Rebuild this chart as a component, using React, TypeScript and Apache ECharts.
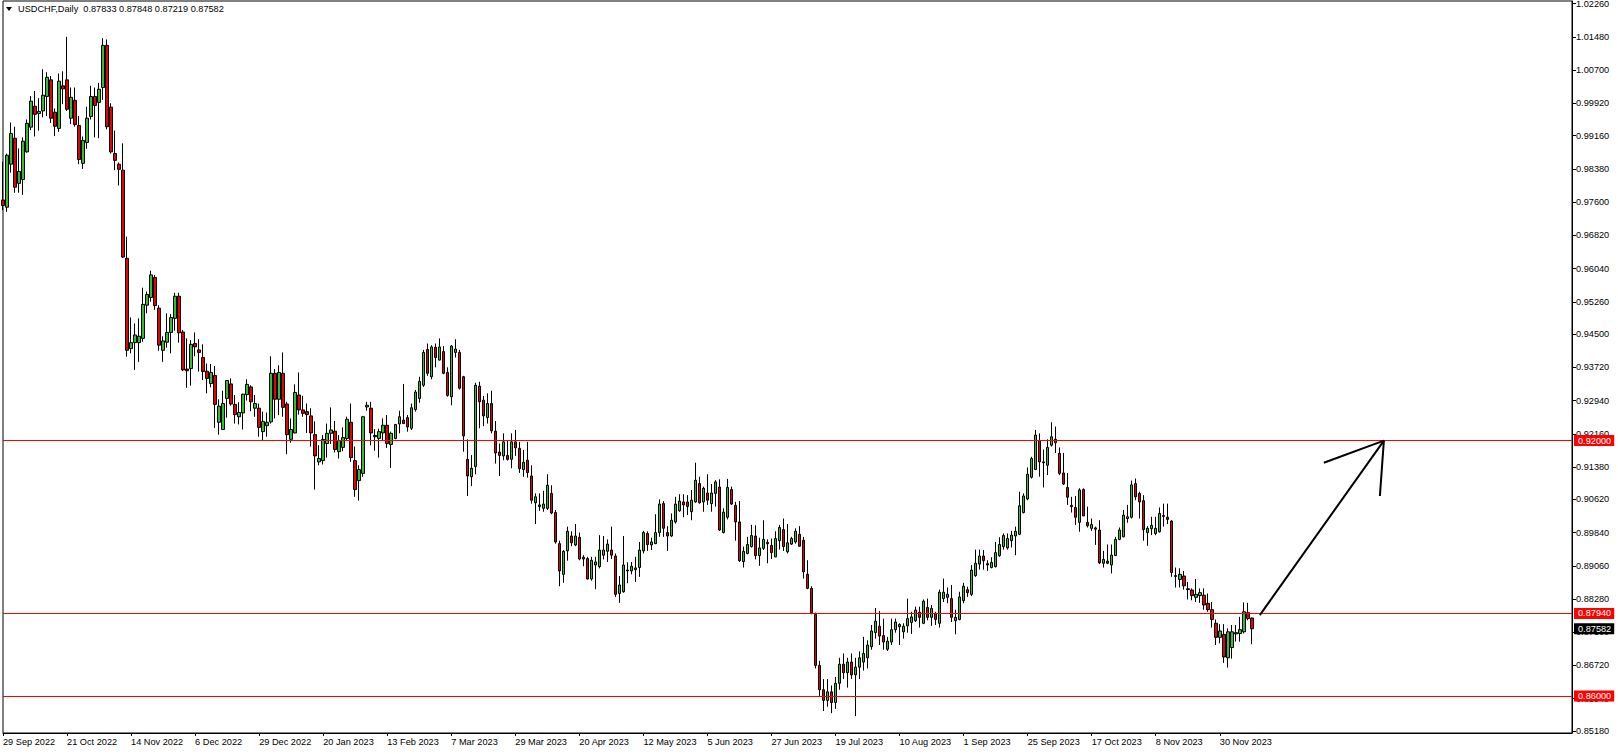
import React, { useEffect, useRef } from "react";
import * as echarts from "echarts";

const symbolName = "USDCHF,Daily";

const opens = [
  0.9765,0.9748,0.9849,0.9910,0.9804,0.9813,0.9878,0.9936,0.9985,0.9968,
  0.9974,1.0008,1.0047,0.9971,0.9933,1.0033,1.0047,0.9957,0.9999,0.9940,
  0.9851,0.9900,0.9961,1.0008,0.9994,1.0029,1.0128,0.9983,0.9874,0.9849,
  0.9835,0.9628,0.9416,0.9430,0.9430,0.9440,0.9518,0.9536,0.9583,0.9511,
  0.9412,0.9431,0.9454,0.9487,0.9539,0.9455,0.9368,0.9369,0.9428,0.9413,
  0.9395,0.9363,0.9334,0.9353,0.9243,0.9226,0.9299,0.9333,0.9285,0.9256,
  0.9265,0.9308,0.9326,0.9276,0.9276,0.9221,0.9235,0.9244,0.9358,0.9297,
  0.9358,0.9286,0.9203,0.9218,0.9307,0.9272,0.9268,0.9258,0.9214,0.9150,
  0.9153,0.9193,0.9217,0.9222,0.9174,0.9184,0.9205,0.9243,0.9153,0.9106,
  0.9123,0.9279,0.9276,0.9212,0.9205,0.9218,0.9236,0.9191,0.9205,0.9239,
  0.9248,0.9254,0.9229,0.9273,0.9299,0.9330,0.9414,0.9350,0.9419,0.9389,
  0.9409,0.9360,0.9303,0.9407,0.9407,0.9350,0.9156,0.9115,0.9139,0.9328,
  0.9295,0.9254,0.9287,0.9222,0.9173,0.9164,0.9165,0.9156,0.9197,0.9182,
  0.9132,0.9154,0.9117,0.9054,0.9049,0.9041,0.9041,0.9076,0.9031,0.8958,
  0.8886,0.8941,0.8976,0.8955,0.8973,0.8926,0.8923,0.8875,0.8908,0.8904,
  0.8931,0.8940,0.8943,0.8929,0.8841,0.8845,0.8894,0.8894,0.8897,0.8902,
  0.8941,0.8982,0.8955,0.8958,0.8984,0.9052,0.8984,0.8976,0.9009,0.9035,
  0.9056,0.9056,0.9033,0.9056,0.9099,0.9056,0.9077,0.9052,0.9076,0.9091,
  0.8984,0.9020,0.9085,0.9048,0.9009,0.8916,0.8935,0.8951,0.8976,0.8930,
  0.8947,0.8961,0.8954,0.8927,0.8965,0.8991,0.8939,0.8957,0.8962,0.8980,
  0.8966,0.8886,0.8853,0.8792,0.8672,0.8615,0.8590,0.8610,0.8585,0.8630,
  0.8675,0.8655,0.8680,0.8650,0.8668,0.8680,0.8690,0.8716,0.8749,0.8764,
  0.8742,0.8710,0.8727,0.8756,0.8763,0.8751,0.8765,0.8773,0.8777,0.8797,
  0.8771,0.8808,0.8785,0.8794,0.8771,0.8829,0.8832,0.8829,0.8777,0.8780,
  0.8824,0.8850,0.8839,0.8883,0.8910,0.8929,0.8911,0.8902,0.8904,0.8930,
  0.8951,0.8948,0.8965,0.8976,0.8980,0.9031,0.9063,0.9114,0.9132,0.9200,
  0.9150,0.9142,0.9189,0.9203,0.9170,0.9124,0.9090,0.9048,0.9043,0.9008,
  0.9085,0.9008,0.8994,0.8995,0.8990,0.8912,0.8917,0.8908,0.8930,0.8968,
  0.8974,0.9017,0.9020,0.9099,0.9076,0.9059,0.8984,0.8993,0.8982,0.8986,
  0.9022,0.9020,0.9011,0.8883,0.8874,0.8882,0.8852,0.8849,0.8832,0.8836,
  0.8837,0.8818,0.8803,0.8771,0.8738,0.8745,0.8690,0.8714,0.8746,0.8747,
  0.8751,0.8796,0.87833,
];

const highs = [
  0.9855,0.9874,0.9947,0.9937,0.9886,0.9912,0.9954,1.0009,1.0021,1.0004,
  1.0072,1.0065,1.0056,0.9980,1.0062,1.0067,1.0148,1.0029,1.0029,0.9962,
  0.9914,0.9984,1.0033,1.0029,1.0040,1.0145,1.0142,0.9992,0.9928,0.9853,
  0.9898,0.9679,0.9489,0.9475,0.9487,0.9559,0.9550,0.9599,0.9589,0.9518,
  0.9445,0.9499,0.9497,0.9547,0.9547,0.9460,0.9440,0.9436,0.9454,0.9438,
  0.9426,0.9381,0.9380,0.9375,0.9297,0.9317,0.9342,0.9346,0.9307,0.9290,
  0.9310,0.9344,0.9330,0.9307,0.9287,0.9268,0.9266,0.9398,0.9368,0.9377,
  0.9407,0.9291,0.9252,0.9332,0.9360,0.9305,0.9287,0.9276,0.9245,0.9189,
  0.9213,0.9240,0.9278,0.9246,0.9213,0.9231,0.9256,0.9287,0.9186,0.9142,
  0.9258,0.9291,0.9291,0.9227,0.9228,0.9252,0.9260,0.9221,0.9239,0.9270,
  0.9333,0.9260,0.9287,0.9319,0.9350,0.9413,0.9428,0.9424,0.9428,0.9440,
  0.9422,0.9372,0.9424,0.9438,0.9413,0.9352,0.9203,0.9166,0.9336,0.9338,
  0.9305,0.9311,0.9317,0.9246,0.9193,0.9217,0.9200,0.9217,0.9225,0.9197,
  0.9178,0.9197,0.9142,0.9076,0.9076,0.9082,0.9121,0.9095,0.9037,0.8965,
  0.8943,0.8998,0.8987,0.9004,0.8984,0.8931,0.8927,0.8927,0.8927,0.8978,
  0.8976,0.8968,0.8998,0.8935,0.8882,0.8976,0.8914,0.8915,0.8927,0.8962,
  0.8988,0.8987,0.8972,0.9027,0.9062,0.9058,0.8999,0.9029,0.9068,0.9074,
  0.9074,0.9072,0.9084,0.9148,0.9115,0.9092,0.9121,0.9098,0.9107,0.9109,
  0.9041,0.9110,0.9092,0.9056,0.9058,0.8951,0.8974,0.9002,0.9001,0.8972,
  0.9013,0.8968,0.8970,0.8987,0.9002,0.9017,0.9004,0.8974,0.8994,0.8999,
  0.8974,0.8919,0.8858,0.8796,0.8683,0.8640,0.8640,0.8625,0.8645,0.8690,
  0.8700,0.8690,0.8700,0.8690,0.8705,0.8739,0.8731,0.8767,0.8807,0.8800,
  0.8782,0.8739,0.8782,0.8782,0.8771,0.8771,0.8829,0.8798,0.8810,0.8810,
  0.8827,0.8829,0.8814,0.8798,0.8850,0.8876,0.8855,0.8861,0.8803,0.8845,
  0.8866,0.8857,0.8908,0.8944,0.8944,0.8943,0.8919,0.8926,0.8962,0.8973,
  0.8982,0.8982,0.8988,0.8998,0.9080,0.9076,0.9137,0.9162,0.9225,0.9217,
  0.9179,0.9203,0.9243,0.9233,0.9184,0.9171,0.9124,0.9068,0.9070,0.9088,
  0.9088,0.9045,0.9017,0.8998,0.9013,0.8941,0.8956,0.8956,0.8974,0.8996,
  0.9037,0.9049,0.9106,0.9111,0.9080,0.9072,0.8999,0.9021,0.9021,0.9043,
  0.9052,0.9052,0.9013,0.8902,0.8900,0.8894,0.8868,0.8853,0.8875,0.8853,
  0.8853,0.8841,0.8821,0.8780,0.8769,0.8769,0.8759,0.8767,0.8767,0.8786,
  0.8820,0.8819,0.87848,
];

const lows = [
  0.9741,0.9737,0.9829,0.9782,0.9782,0.9777,0.9876,0.9929,0.9914,0.9928,
  0.9959,0.9962,0.9946,0.9915,0.9925,0.9990,0.9974,0.9943,0.9937,0.9849,
  0.9838,0.9885,0.9954,0.9912,0.9910,1.0000,0.9931,0.9874,0.9835,0.9799,
  0.9629,0.9397,0.9405,0.9366,0.9385,0.9432,0.9499,0.9526,0.9507,0.9411,
  0.9385,0.9418,0.9405,0.9458,0.9430,0.9363,0.9324,0.9329,0.9398,0.9362,
  0.9342,0.9311,0.9325,0.9230,0.9214,0.9225,0.9254,0.9282,0.9240,0.9238,
  0.9226,0.9294,0.9269,0.9256,0.9209,0.9200,0.9209,0.9240,0.9252,0.9260,
  0.9256,0.9168,0.9195,0.9217,0.9261,0.9256,0.9218,0.9186,0.9085,0.9142,
  0.9144,0.9160,0.9192,0.9172,0.9158,0.9175,0.9199,0.9150,0.9068,0.9059,
  0.9115,0.9270,0.9189,0.9176,0.9160,0.9200,0.9183,0.9136,0.9203,0.9217,
  0.9239,0.9221,0.9225,0.9268,0.9289,0.9326,0.9352,0.9344,0.9372,0.9388,
  0.9356,0.9303,0.9283,0.9395,0.9320,0.9174,0.9070,0.9093,0.9121,0.9229,
  0.9234,0.9240,0.9217,0.9146,0.9117,0.9154,0.9153,0.9135,0.9164,0.9124,
  0.9115,0.9113,0.9052,0.9004,0.9035,0.9033,0.9037,0.9027,0.8958,0.8858,
  0.8866,0.8918,0.8952,0.8952,0.8919,0.8905,0.8874,0.8871,0.8851,0.8900,
  0.8921,0.8915,0.8922,0.8833,0.8819,0.8843,0.8865,0.8886,0.8868,0.8880,
  0.8935,0.8941,0.8943,0.8957,0.8974,0.8974,0.8941,0.8974,0.9005,0.9033,
  0.9020,0.9025,0.9013,0.9054,0.9052,0.9033,0.9049,0.9033,0.9045,0.8988,
  0.8982,0.9015,0.9049,0.8965,0.8915,0.8902,0.8933,0.8949,0.8921,0.8906,
  0.8943,0.8912,0.8922,0.8926,0.8944,0.8941,0.8935,0.8955,0.8958,0.8951,
  0.8876,0.8851,0.8792,0.8665,0.8600,0.8565,0.8575,0.8560,0.8570,0.8615,
  0.8640,0.8620,0.8640,0.8553,0.8640,0.8660,0.8665,0.8709,0.8735,0.8720,
  0.8709,0.8706,0.8720,0.8749,0.8720,0.8735,0.8749,0.8746,0.8774,0.8761,
  0.8769,0.8778,0.8765,0.8767,0.8761,0.8821,0.8818,0.8774,0.8745,0.8778,
  0.8818,0.8833,0.8835,0.8880,0.8897,0.8897,0.8894,0.8900,0.8902,0.8927,
  0.8944,0.8944,0.8949,0.8931,0.8978,0.9029,0.9060,0.9111,0.9131,0.9115,
  0.9090,0.9119,0.9186,0.9171,0.9119,0.9096,0.9049,0.9031,0.9002,0.8986,
  0.9023,0.8996,0.8988,0.8955,0.8910,0.8902,0.8910,0.8888,0.8929,0.8966,
  0.8973,0.9007,0.9017,0.9060,0.9017,0.8965,0.8953,0.8978,0.8978,0.8984,
  0.8998,0.9004,0.8880,0.8855,0.8855,0.8850,0.8827,0.8825,0.8821,0.8819,
  0.8803,0.8798,0.8761,0.8720,0.8724,0.8678,0.8667,0.8688,0.8728,0.8728,
  0.8747,0.8778,0.87219,
];

const closes = [
  0.9752,0.9870,0.9921,0.9795,0.9832,0.9903,0.9945,0.9997,0.9966,0.9973,
  1.0011,1.0053,0.9957,0.9938,1.0044,1.0026,0.9978,1.0006,0.9942,0.9860,
  0.9905,0.9957,1.0008,0.9987,1.0025,1.0128,0.9937,0.9878,0.9858,0.9837,
  0.9631,0.9412,0.9430,0.9448,0.9445,0.9520,0.9543,0.9589,0.9517,0.9424,
  0.9434,0.9454,0.9489,0.9539,0.9453,0.9366,0.9364,0.9426,0.9420,0.9407,
  0.9362,0.9346,0.9360,0.9285,0.9281,0.9287,0.9341,0.9286,0.9261,0.9266,
  0.9309,0.9332,0.9291,0.9287,0.9231,0.9245,0.9243,0.9358,0.9297,0.9360,
  0.9278,0.9214,0.9226,0.9313,0.9272,0.9264,0.9261,0.9218,0.9164,0.9158,
  0.9203,0.9217,0.9225,0.9179,0.9200,0.9207,0.9250,0.9160,0.9085,0.9132,
  0.9256,0.9283,0.9218,0.9209,0.9221,0.9236,0.9193,0.9217,0.9238,0.9256,
  0.9240,0.9232,0.9277,0.9314,0.9339,0.9407,0.9358,0.9420,0.9395,0.9420,
  0.9358,0.9306,0.9422,0.9415,0.9323,0.9211,0.9117,0.9135,0.9330,0.9291,
  0.9258,0.9287,0.9223,0.9171,0.9165,0.9197,0.9156,0.9197,0.9183,0.9134,
  0.9149,0.9125,0.9060,0.9068,0.9045,0.9051,0.9095,0.9030,0.8962,0.8894,
  0.8940,0.8987,0.8960,0.8976,0.8922,0.8922,0.8875,0.8919,0.8915,0.8943,
  0.8943,0.8957,0.8931,0.8839,0.8861,0.8908,0.8896,0.8905,0.8901,0.8943,
  0.8984,0.8956,0.8962,0.8984,0.9051,0.8994,0.8976,0.9013,0.9051,0.9058,
  0.9049,0.9045,0.9060,0.9107,0.9054,0.9088,0.9060,0.9077,0.9103,0.8990,
  0.9032,0.9090,0.9051,0.9009,0.8918,0.8940,0.8956,0.8977,0.8930,0.8948,
  0.8968,0.8958,0.8937,0.8970,0.8996,0.8951,0.8960,0.8970,0.8987,0.8952,
  0.8892,0.8853,0.8796,0.8672,0.8615,0.8590,0.8610,0.8585,0.8630,0.8675,
  0.8655,0.8680,0.8650,0.8668,0.8690,0.8700,0.8720,0.8753,0.8776,0.8741,
  0.8727,0.8729,0.8756,0.8774,0.8768,0.8764,0.8782,0.8786,0.8802,0.8785,
  0.8823,0.8785,0.8806,0.8780,0.8844,0.8844,0.8839,0.8785,0.8785,0.8833,
  0.8858,0.8843,0.8896,0.8912,0.8929,0.8918,0.8908,0.8914,0.8937,0.8956,
  0.8977,0.8970,0.8978,0.8987,0.9047,0.9070,0.9121,0.9158,0.9213,0.9150,
  0.9148,0.9184,0.9209,0.9195,0.9123,0.9098,0.9067,0.9045,0.9020,0.9084,
  0.9023,0.9000,0.9003,0.8992,0.8913,0.8921,0.8912,0.8931,0.8968,0.8990,
  0.9025,0.9021,0.9096,0.9068,0.9056,0.8991,0.8994,0.9001,0.8994,0.9029,
  0.9024,0.9015,0.8890,0.8881,0.8886,0.8859,0.8850,0.8836,0.8839,0.8843,
  0.8814,0.8803,0.8780,0.8738,0.8753,0.8692,0.8751,0.8751,0.8749,0.8756,
  0.8798,0.8782,0.87582,
];

const dateLabels = [
  "29 Sep 2022", "21 Oct 2022", "14 Nov 2022", "6 Dec 2022", "29 Dec 2022",
  "20 Jan 2023", "13 Feb 2023", "7 Mar 2023", "29 Mar 2023", "20 Apr 2023",
  "12 May 2023", "5 Jun 2023", "27 Jun 2023", "19 Jul 2023", "10 Aug 2023",
  "1 Sep 2023", "25 Sep 2023", "17 Oct 2023", "8 Nov 2023", "30 Nov 2023",
];
const labelEvery = 16;
const totalSlots = 393;

const priceTicks = [
  1.0226, 1.0148, 1.007, 0.9992, 0.9916, 0.9838, 0.976, 0.9682, 0.9604, 0.9526,
  0.945, 0.9372, 0.9294, 0.9216, 0.9138, 0.9062, 0.8984, 0.8906, 0.8828, 0.875,
  0.8672, 0.8594, 0.8518,
];

const levelLines = [0.92, 0.8794, 0.86];

const arrowShaft = [[314, 0.879], [345, 0.92]];
const arrowHead = [[330, 0.9148], [345, 0.92], [344, 0.907]];

const FONT = "Liberation Sans";

export default function App() {
  const ref = useRef<HTMLDivElement>(null);

  useEffect(() => {
    const chart = echarts.init(ref.current as HTMLDivElement, null, { renderer: "svg" });
    const cats = Array.from({ length: totalSlots }, (_, i) => String(i));
    const showTick = (i: number) => i % labelEvery === 0 && i / labelEvery < dateLabels.length;
    const candles = opens.map((o, i) => [o, closes[i], lows[i], highs[i]]);
    const last = opens.length - 1;
    const titleText =
      symbolName + "  " +
      [opens[last], highs[last], lows[last], closes[last]].map((v) => v.toFixed(5)).join(" ");

    const levelData: any[] = levelLines.map((v) => ({
      yAxis: v,
      lineStyle: { color: "#ff0000", width: 1, type: "solid" },
      label: { backgroundColor: "#ff0000", color: "#ffffff" },
    }));
    levelData.push({
      yAxis: closes[last],
      lineStyle: { color: "rgba(0,0,0,0)", width: 1, type: "solid" },
      label: { backgroundColor: "#000000", color: "#ffffff" },
    });

    chart.setOption({
      animation: false,
      backgroundColor: "#ffffff",
      textStyle: { fontFamily: FONT },
      grid: {
        left: 3,
        right: 46,
        top: 1,
        height: 732,
        show: true,
        borderColor: "#000",
        borderWidth: 1,
        containLabel: false,
        outerBoundsMode: "none",
      },
      xAxis: {
        type: "category",
        data: cats,
        boundaryGap: false,
        axisLine: { show: true, lineStyle: { color: "#000", width: 1 } },
        axisTick: { show: true, interval: (i: number) => showTick(i), length: 3, lineStyle: { color: "#000" } },
        axisLabel: {
          show: true,
          interval: (i: number) => showTick(i),
          formatter: (_v: string, i: number) => (showTick(i) ? dateLabels[i / labelEvery] : ""),
          align: "left",
          margin: 4,
          color: "#000",
          fontFamily: FONT,
          fontSize: 9.2,
        },
        splitLine: { show: false },
      },
      yAxis: {
        type: "value",
        position: "right",
        min: 0.85134,
        max: 1.02322,
        axisLine: { show: true, lineStyle: { color: "#000", width: 1 } },
        axisTick: { show: true, customValues: priceTicks, length: 4, lineStyle: { color: "#000" } },
        axisLabel: {
          show: true,
          customValues: priceTicks,
          formatter: (v: number) => v.toFixed(5),
          margin: 4,
          color: "#000",
          fontFamily: FONT,
          fontSize: 9.2,
        },
        splitLine: { show: false },
      },
      series: [
        {
          type: "candlestick",
          data: candles,
          barWidth: 3,
          itemStyle: {
            color: "#2fbf2f",
            color0: "#e60000",
            borderColor: "#000",
            borderColor0: "#000",
            borderWidth: 1,
          },
          markLine: {
            silent: true,
            symbol: ["none", "none"],
            precision: 5,
            label: {
              show: true,
              position: "end",
              distance: 2,
              formatter: (p: any) => Number(p.value).toFixed(5),
              color: "#fff",
              fontFamily: FONT,
              fontSize: 9.2,
              padding: [1, 3, 1, 4],
            },
            data: levelData,
          },
        },
        {
          type: "line",
          data: arrowShaft,
          symbol: "none",
          silent: true,
          lineStyle: { color: "#000", width: 2 },
          z: 5,
        },
        {
          type: "line",
          data: arrowHead,
          symbol: "none",
          silent: true,
          lineStyle: { color: "#000", width: 2 },
          z: 5,
        },
      ],
      graphic: [
        {
          type: "polygon",
          shape: { points: [[6, 7], [12, 7], [9, 11]] },
          style: { fill: "#000" },
        },
        {
          type: "text",
          x: 18,
          y: 9,
          style: {
            text: titleText,
            fill: "#000",
            font: `9.2px "${FONT}"`,
            verticalAlign: "middle",
            align: "left",
          },
        },
      ],
    });

    return () => chart.dispose();
  }, []);

  return (
    <div
      ref={ref}
      style={{ position: "fixed", left: 0, top: 0, width: 1618, height: 754, background: "#fff" }}
    />
  );
}
